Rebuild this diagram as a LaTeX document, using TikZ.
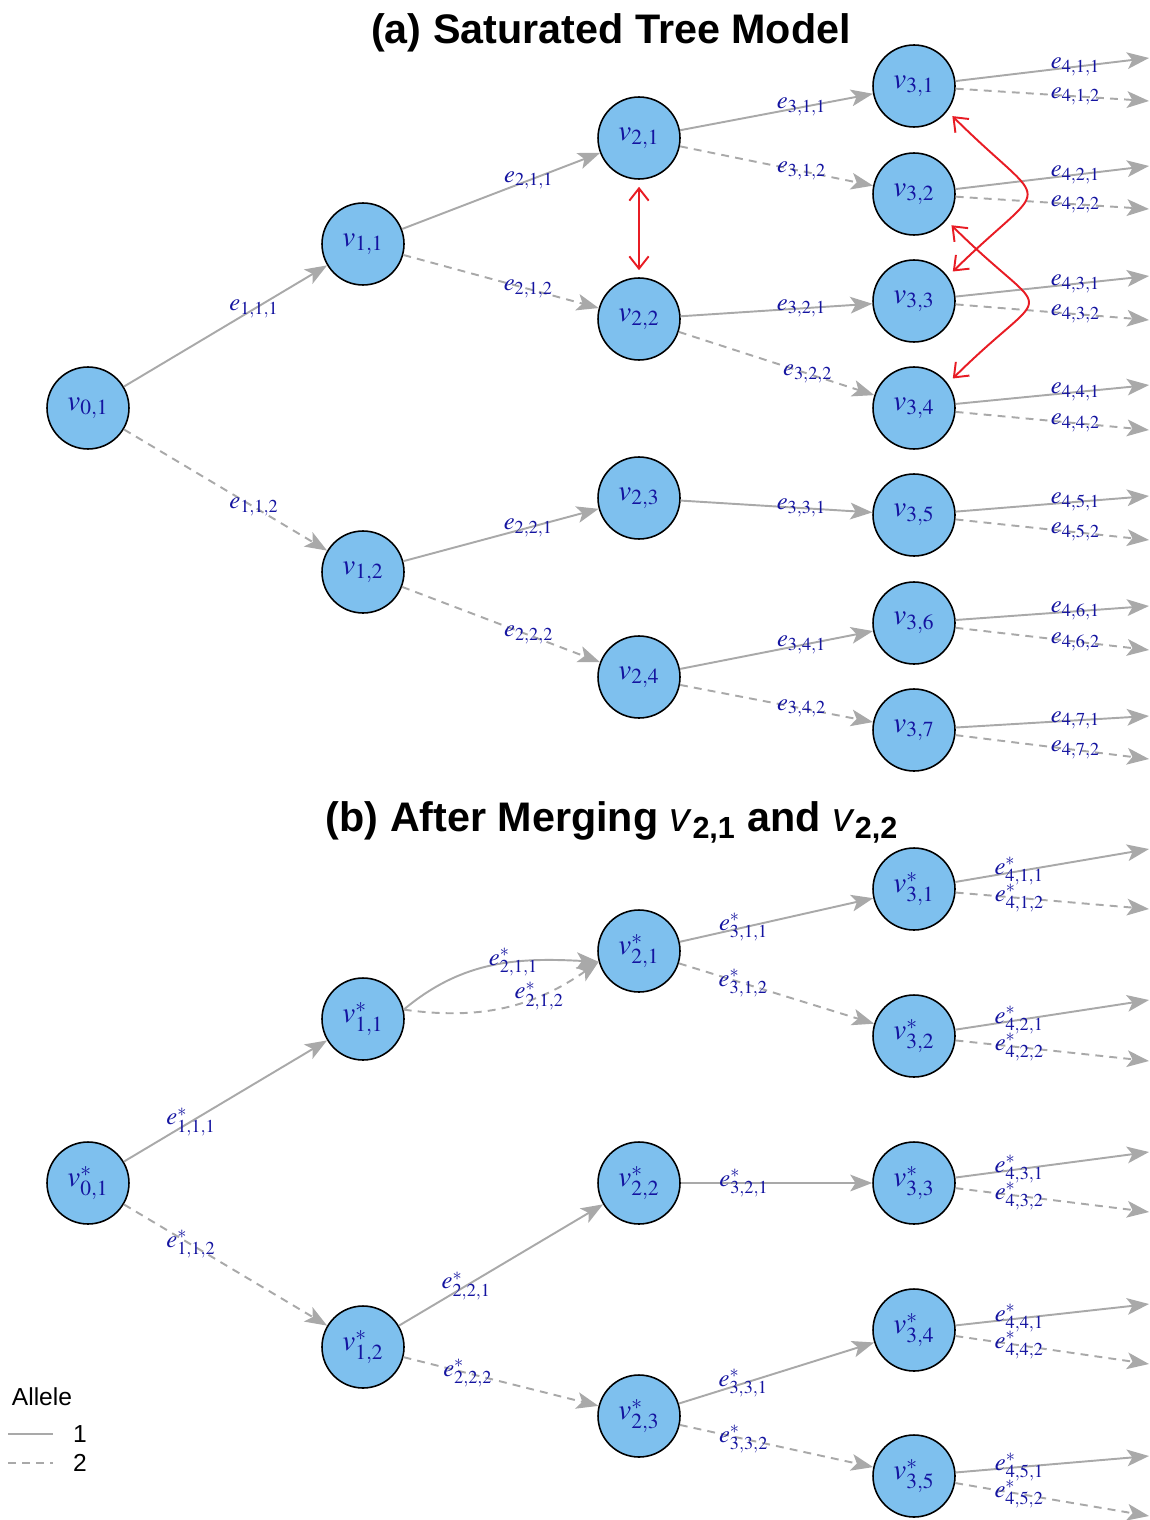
\documentclass[tikz,border=0pt]{standalone}
\usepackage{mathptmx}
\usepackage{fontspec}
\newfontfamily\arialfont{Liberation Sans}
\usetikzlibrary{arrows.meta}

\definecolor{nodeblue}{RGB}{126,192,238}
\definecolor{labelblue}{RGB}{20,20,160}
\definecolor{edgegray}{RGB}{169,169,169}
\definecolor{swapred}{RGB}{232,28,36}

\tikzset{
  vertex/.style={circle, draw=black, line width=0.9pt, fill=nodeblue,
    minimum size=1.64cm, inner sep=0pt, text=labelblue,
    font=\fontsize{16.5}{16.5}\selectfont},
  allele1/.style={draw=edgegray, line width=1.1pt,
    -{Stealth[length=12.5pt,width=9.5pt,inset=3pt]}},
  allele2/.style={allele1, dash pattern=on 4.5pt off 3.5pt},
  elabel/.style={text=labelblue, inner sep=0pt, font=\fontsize{14}{14}\selectfont},
  swap/.style={draw=swapred, line width=1.1pt,
    {Straight Barb[length=7pt,width=11pt]}-{Straight Barb[length=7pt,width=11pt]}},
  title/.style={font=\arialfont\bfseries\fontsize{23.5}{24}\selectfont},
}

\begin{document}
\begin{tikzpicture}[x=0.02cm, y=-0.02cm]
  \useasboundingbox (0,0) rectangle (1149,1520);

  % (a) the full tree
  \node[title] (ta) at (611,33) {(a) Saturated Tree Model};

  \node[vertex] (a01) at (88,408) {$v_{0,1}$};
  \node[vertex] (a11) at (363,244) {$v_{1,1}$};
  \node[vertex] (a12) at (363,572) {$v_{1,2}$};
  \foreach \j/\y in {1/138,2/319,3/498,4/677}
    \node[vertex] (a2\j) at (639,\y) {$v_{2,\j}$};
  \foreach \j/\y in {1/86,2/194,3/301,4/408,5/515,6/623,7/730}
    \node[vertex] (a3\j) at (914,\y) {$v_{3,\j}$};

  \draw[allele1] (a01) -- node[elabel,pos=0.64] {$e_{1,1,1}$} (a11);
  \draw[allele2] (a01) -- node[elabel,pos=0.64] {$e_{1,1,2}$} (a12);
  \draw[allele1] (a11) -- node[elabel,pos=0.64] {$e_{2,1,1}$} (a21);
  \draw[allele2] (a11) -- node[elabel,pos=0.64] {$e_{2,1,2}$} (a22);
  \draw[allele1] (a12) -- node[elabel,pos=0.64] {$e_{2,2,1}$} (a23);
  \draw[allele2] (a12) -- node[elabel,pos=0.64] {$e_{2,2,2}$} (a24);
  \draw[allele1] (a21) -- node[elabel,pos=0.63] {$e_{3,1,1}$} (a31);
  \draw[allele2] (a21) -- node[elabel,pos=0.63] {$e_{3,1,2}$} (a32);
  \draw[allele1] (a22) -- node[elabel,pos=0.63] {$e_{3,2,1}$} (a33);
  \draw[allele2] (a22) -- node[elabel,pos=0.66] {$e_{3,2,2}$} (a34);
  \draw[allele1] (a23) -- node[elabel,pos=0.63] {$e_{3,3,1}$} (a35);
  \draw[allele1] (a24) -- node[elabel,pos=0.63] {$e_{3,4,1}$} (a36);
  \draw[allele2] (a24) -- node[elabel,pos=0.63] {$e_{3,4,2}$} (a37);

  % leaves run off the right edge
  \foreach \j/\ya/\yb in {1/58/101,2/166/209,3/276/320,4/385/430,5/496/540,6/606/650,7/716/759}{
    \coordinate (la\j1) at (1149,\ya);
    \coordinate (la\j2) at (1149,\yb);
    \draw[allele1] (a3\j) -- node[elabel,pos=0.62] {$e_{4,\j,1}$} (la\j1);
    \draw[allele2] (a3\j) -- node[elabel,pos=0.62] {$e_{4,\j,2}$} (la\j2);
  }

  % candidate swaps
  \draw[swap, shorten <=4pt, shorten >=4pt] (a21) -- (a22);
  \draw[swap, shorten <=4pt, shorten >=4pt] (a31.-37) .. controls (1052,215) and (1052,174) .. (a33.36);
  \draw[swap, shorten <=4pt, shorten >=4pt] (a32.-39) .. controls (1054,327) and (1054,278) .. (a34.36);

  % (b) after the merge
  \node[title] (tb) at (612,822) {(b) After Merging \textit{\mdseries v}\textsubscript{2,1} and \textit{\mdseries v}\textsubscript{2,2}};

  \node[vertex] (b01) at (88,1183) {$v^*_{0,1}$};
  \node[vertex] (b11) at (363,1019) {$v^*_{1,1}$};
  \node[vertex] (b12) at (363,1347) {$v^*_{1,2}$};
  \foreach \j/\y in {1/951,2/1183,3/1416}
    \node[vertex] (b2\j) at (639,\y) {$v^*_{2,\j}$};
  \foreach \j/\y in {1/889,2/1036,3/1183,4/1330,5/1476}
    \node[vertex] (b3\j) at (914,\y) {$v^*_{3,\j}$};

  \draw[allele1] (b01) -- node[elabel,pos=0.33] {$e^*_{1,1,1}$} (b11);
  \draw[allele2] (b01) -- node[elabel,pos=0.33] {$e^*_{1,1,2}$} (b12);
  \draw[allele1] (b11.13) to[out=40,in=177] node[elabel,pos=0.6] {$e^*_{2,1,1}$} (b21.195);
  \draw[allele2] (b11.13) to[out=-8,in=215] node[elabel,pos=0.68] {$e^*_{2,1,2}$} (b21.195);
  \draw[allele1] (b12) -- node[elabel,pos=0.33] {$e^*_{2,2,1}$} (b22);
  \draw[allele2] (b12) -- node[elabel,pos=0.33] {$e^*_{2,2,2}$} (b23);
  \draw[allele1] (b21) -- node[elabel,pos=0.33] {$e^*_{3,1,1}$} (b31);
  \draw[allele2] (b21) -- node[elabel,pos=0.33] {$e^*_{3,1,2}$} (b32);
  \draw[allele1] (b22) -- node[elabel,pos=0.33] {$e^*_{3,2,1}$} (b33);
  \draw[allele1] (b23) -- node[elabel,pos=0.33] {$e^*_{3,3,1}$} (b34);
  \draw[allele2] (b23) -- node[elabel,pos=0.33] {$e^*_{3,3,2}$} (b35);

  \foreach \j/\ya/\yb in {1/849/909,2/1000/1061,3/1152/1212,4/1304/1364,5/1456/1516}{
    \coordinate (lb\j1) at (1149,\ya);
    \coordinate (lb\j2) at (1149,\yb);
    \draw[allele1] (b3\j) -- node[elabel,pos=0.33] {$e^*_{4,\j,1}$} (lb\j1);
    \draw[allele2] (b3\j) -- node[elabel,pos=0.33] {$e^*_{4,\j,2}$} (lb\j2);
  }

  % legend
  \node[font=\arialfont\fontsize{14}{14}\selectfont] (key) at (42,1397) {Allele};
  \coordinate (k1a) at (8,1434);  \coordinate (k1b) at (53,1434);
  \coordinate (k2a) at (8,1463);  \coordinate (k2b) at (53,1463);
  \draw[edgegray, line width=1.1pt] (k1a) -- (k1b);
  \draw[edgegray, line width=1.1pt, dash pattern=on 4.5pt off 3.5pt] (k2a) -- (k2b);
  \node[font=\arialfont\fontsize{14}{14}\selectfont] (k1) at (80,1434) {1};
  \node[font=\arialfont\fontsize{14}{14}\selectfont] (k2) at (80,1463) {2};
\end{tikzpicture}
\end{document}
